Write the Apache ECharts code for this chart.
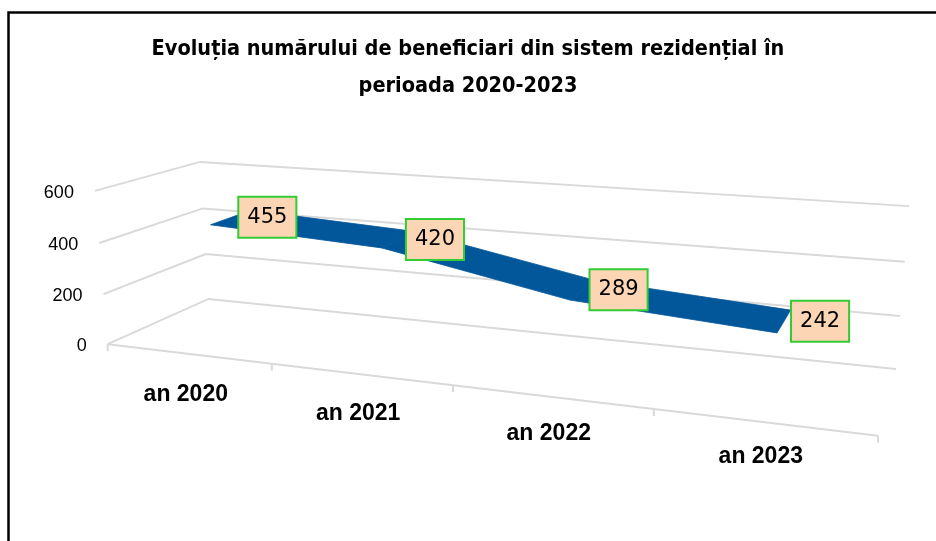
<!DOCTYPE html>
<html>
<head>
<meta charset="utf-8">
<script src="https://cdn.jsdelivr.net/npm/echarts@6/dist/echarts.min.js"></script>
<style>
html,body{margin:0;padding:0;background:#fff}
#chart{width:936px;height:541px}
</style>
</head>
<body>
<div id="chart"></div>
<script>
// datele graficului
var categories = ['an 2020', 'an 2021', 'an 2022', 'an 2023'];
var beneficiari = [455, 420, 289, 242];
var yTicks = [0, 200, 400, 600];
var titlu = 'Evoluția numărului de beneficiari din sistem rezidențial în\nperioada 2020-2023';

// cutia 3D: (u, v, z) in [0,1] -> unde cade pe ecran (camera)
var corners = [
	[0, 0, 0, 108, 343], [1, 0, 0, 878, 435], [0, 0, 1, 208, 299], [1, 0, 1, 896, 369],
	[0, 1, 0, 95, 191], [0, 1, 1, 200, 162], [1, 1, 1, 909, 206],
	[0, 2/3, 0, 99, 243], [0, 2/3, 1, 203, 209], [1, 2/3, 1, 905, 261],
	[0, 1/3, 0, 103, 294], [0, 1/3, 1, 206, 254], [1, 1/3, 1, 900, 316],
	[0.25, 0, 0, 272, 363], [0.5, 0, 0, 454, 387], [0.75, 0, 0, 653, 410]
];
var ZF = 0.29, ZB = 0.71; // adancimea panglicii

var fontTxt = '"Liberation Sans", Arial, sans-serif';
var fontTitlu = '"Liberation Sans Narrow", "DejaVu Sans Condensed", "Liberation Sans", sans-serif';

// camera prin DLT (cele mai mici patrate)
function solveCamera(pts) {
	var n = 11, M = [], b = [];
	for (var i = 0; i < n; i++) { M.push(new Array(n).fill(0)); b.push(0); }
	pts.forEach(function (p) {
		var X = p[0], Y = p[1], Z = p[2], u = p[3] / 1000, v = p[4] / 1000;
		var rows = [
			[[X, Y, Z, 1, 0, 0, 0, 0, -u * X, -u * Y, -u * Z], u],
			[[0, 0, 0, 0, X, Y, Z, 1, -v * X, -v * Y, -v * Z], v]
		];
		rows.forEach(function (rr) {
			var r = rr[0], t = rr[1];
			for (var a = 0; a < n; a++) {
				b[a] += r[a] * t;
				for (var c = 0; c < n; c++) M[a][c] += r[a] * r[c];
			}
		});
	});
	for (var k = 0; k < n; k++) {
		var piv = k;
		for (var i = k + 1; i < n; i++) if (Math.abs(M[i][k]) > Math.abs(M[piv][k])) piv = i;
		var tm = M[k]; M[k] = M[piv]; M[piv] = tm;
		var tb = b[k]; b[k] = b[piv]; b[piv] = tb;
		for (var i = k + 1; i < n; i++) {
			var f = M[i][k] / M[k][k];
			for (var c = k; c < n; c++) M[i][c] -= f * M[k][c];
			b[i] -= f * b[k];
		}
	}
	var x = new Array(n);
	for (var i = n - 1; i >= 0; i--) {
		var s = b[i];
		for (var c = i + 1; c < n; c++) s -= M[i][c] * x[c];
		x[i] = s / M[i][i];
	}
	return x;
}
var P = solveCamera(corners);
function proj(u, v, z) {
	var w = P[8] * u + P[9] * v + P[10] * z + 1;
	return [1000 * (P[0] * u + P[1] * v + P[2] * z + P[3]) / w,
		1000 * (P[4] * u + P[5] * v + P[6] * z + P[7]) / w];
}
// din coordonatele gridului ascuns -> fractii u, v
function toUV(params, api, idx, val) {
	var cs = params.coordSys;
	var pt = api.coord([idx, val]);
	return [(pt[0] - cs.x) / cs.width, (cs.y + cs.height - pt[1]) / cs.height];
}

var segmente = [];
for (var i = 0; i < beneficiari.length - 1; i++) segmente.push([i, beneficiari[i], beneficiari[i + 1]]);

var chart = echarts.init(document.getElementById('chart'));
chart.setOption({
	animation: false,
	backgroundColor: '#fff',
	title: {
		text: titlu, left: 'center', top: 26,
		textStyle: { fontFamily: fontTitlu, fontSize: 21.5, fontWeight: 'bold', color: '#000', lineHeight: 37 }
	},
	graphic: [{
		type: 'rect', silent: true,
		shape: { x: 8.5, y: 12.5, width: 960, height: 560 },
		style: { fill: 'none', stroke: '#000', lineWidth: 2.5 }
	}],
	grid: { left: 100, top: 100, width: 400, height: 300 },
	xAxis: { type: 'category', data: categories, show: false },
	yAxis: { type: 'value', min: 0, max: 600, interval: 200, show: false },
	series: [
		{ // liniile de grila + etichetele axei valorilor
			type: 'custom', silent: true, z: 1,
			data: yTicks.map(function (t) { return [0, t]; }),
			renderItem: function (params, api) {
				var v = toUV(params, api, 0, api.value(1))[1];
				var a = proj(0, v, 0), b = proj(0, v, 1), c = proj(1, v, 1);
				return { type: 'group', children: [
					{ type: 'polyline', shape: { points: [a, b, c] }, style: { fill: null, stroke: '#d9d9d9', lineWidth: 2 } },
					{ type: 'text', style: { text: String(api.value(1)), x: a[0] - 21, y: a[1] + 2, align: 'right', verticalAlign: 'middle',
						font: '18px ' + fontTxt, fill: '#000' } }
				] };
			}
		},
		{ // marginea fata, tick-uri si categorii
			type: 'custom', silent: true, z: 1,
			data: categories.map(function (c, i) { return [i, 0]; }),
			renderItem: function (params, api) {
				var i = api.value(0);
				var uc = toUV(params, api, i, 0)[0];
				var hb = api.size([1, 0])[0] / params.coordSys.width / 2;
				var a = proj(uc - hb, 0, 0), b = proj(uc + hb, 0, 0), m = proj(uc, 0, 0);
				var ch = [
					{ type: 'line', shape: { x1: a[0], y1: a[1], x2: b[0], y2: b[1] }, style: { stroke: '#d9d9d9', lineWidth: 2 } },
					{ type: 'line', shape: { x1: a[0], y1: a[1], x2: a[0], y2: a[1] + 7 }, style: { stroke: '#d9d9d9', lineWidth: 2 } },
					{ type: 'text', style: { text: categories[i], x: m[0] - 2, y: m[1] + 42 - 8 * uc, align: 'center', verticalAlign: 'middle',
						font: 'bold 23px ' + fontTxt, fill: '#000' } }
				];
				if (i === categories.length - 1) {
					ch.push({ type: 'line', shape: { x1: b[0], y1: b[1], x2: b[0], y2: b[1] + 7 }, style: { stroke: '#d9d9d9', lineWidth: 2 } });
				}
				return { type: 'group', children: ch };
			}
		},
		{ // panglica liniei 3D
			type: 'custom', silent: true, z: 2,
			data: segmente,
			renderItem: function (params, api) {
				var i = api.value(0);
				var A = toUV(params, api, i, api.value(1)), B = toUV(params, api, i + 1, api.value(2));
				var pts = [proj(A[0], A[1], ZB), proj(B[0], B[1], ZB), proj(B[0], B[1], ZF), proj(A[0], A[1], ZF)];
				return { type: 'polygon', shape: { points: pts }, style: { fill: '#02579b', stroke: '#02579b', lineWidth: 0.8 } };
			}
		},
		{ // etichete de date
			type: 'custom', silent: true, z: 3,
			data: beneficiari.map(function (v, i) { return [i, v]; }),
			renderItem: function (params, api) {
				var uv = toUV(params, api, api.value(0), api.value(1));
				var p = proj(uv[0], uv[1], 0.5);
				return { type: 'text', style: {
					text: String(api.value(1)), x: p[0] + 8, y: p[1], align: 'left', verticalAlign: 'middle',
					font: '21px "DejaVu Sans", sans-serif', fill: '#000',
					backgroundColor: '#fcd5b4', borderColor: '#33cc33', borderWidth: 2,
					padding: [8, 8, 6, 8], lineHeight: 25
				} };
			}
		}
	]
});
</script>
</body>
</html>
